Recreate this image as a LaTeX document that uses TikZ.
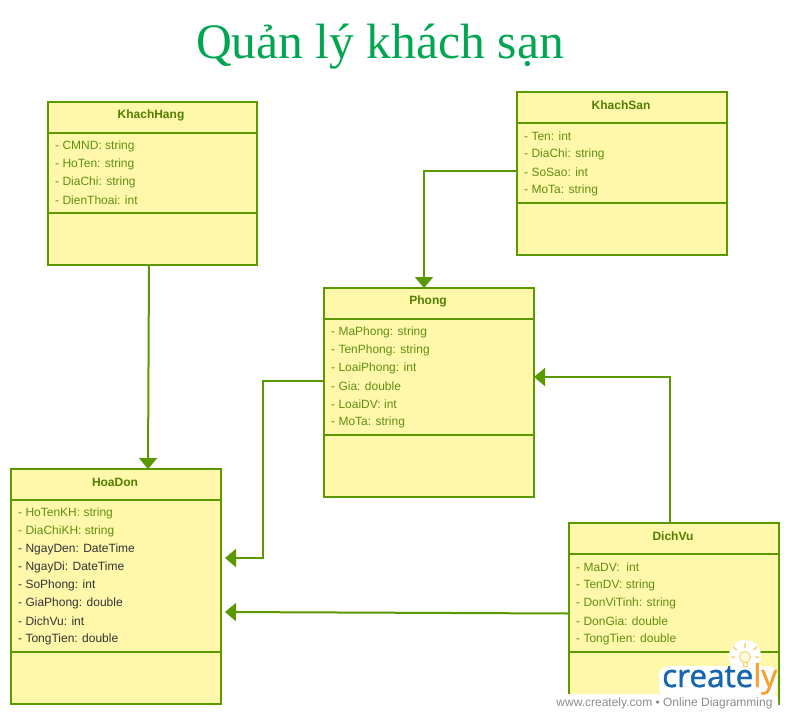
\documentclass[tikz,border=0pt]{standalone}
\usepackage{fontspec}
\setmainfont{Liberation Sans}
\newfontfamily\titlefont{Liberation Serif}
\newfontfamily\logofont[FakeBold=1.2]{Open Sans}
\usetikzlibrary{arrows.meta}
\definecolor{lineg}{HTML}{5A9A00}
\definecolor{fillg}{HTML}{FFF8AB}
\definecolor{textg}{HTML}{5F8F12}
\definecolor{headg}{HTML}{4F7F00}
\definecolor{darkt}{HTML}{333333}
\definecolor{titleg}{HTML}{00A651}
\definecolor{logob}{HTML}{1565B0}
\definecolor{logoo}{HTML}{F5A030}
\definecolor{rayc}{HTML}{F8D478}
\tikzset{
  x=1pt,y=-1pt,
  classbox/.style={draw=lineg,fill=fillg,line width=2pt,anchor=north west,inner sep=0pt,outer sep=0pt,minimum width=#1},
  classbox/.default=210pt,
  sepline/.style={draw=lineg,line width=2pt},
  headtext/.style={font=\fontsize{12}{14}\selectfont\bfseries,text=headg,anchor=center,inner sep=0pt},
  attr/.style={font=\fontsize{12}{14}\selectfont,text=textg,anchor=west,inner sep=0pt},
  attrd/.style={attr,text=darkt},
  conn/.style={draw=lineg,line width=2pt},
  arr/.style={conn,-{Triangle[length=11pt,width=18pt]}},
}
\begin{document}
\begin{tikzpicture}
\useasboundingbox (0,0) rectangle (788,716);
\fill[white] (0,0) rectangle (788,716);
\node[font=\titlefont\fontsize{49.6}{54}\selectfont,text=titleg,inner sep=0pt] (title) at (380,47) {Quản lý khách sạn};

% KhachHang
\node[classbox=209pt,minimum height=163pt] (kh) at (48,102) {};
\draw[sepline] (kh.west |- 0,133) -- (kh.east |- 0,133) (kh.west |- 0,213) -- (kh.east |- 0,213);
\node[headtext] (khT) at (151,115.5) {KhachHang};
\node[attr] (kh1) at (55,146) {- CMND: string};
\node[attr] (kh2) at (55,164) {- HoTen: string};
\node[attr] (kh3) at (55,182) {- DiaChi: string};
\node[attr] (kh4) at (55,200) {- DienThoai: int};

% KhachSan
\node[classbox,minimum height=163pt] (ks) at (517,92) {};
\draw[sepline] (ks.west |- 0,123) -- (ks.east |- 0,123) (ks.west |- 0,203) -- (ks.east |- 0,203);
\node[headtext] (ksT) at (621,105.5) {KhachSan};
\node[attr] (ks1) at (524,136) {- Ten: int};
\node[attr] (ks2) at (524,154) {- DiaChi: string};
\node[attr] (ks3) at (524,172) {- SoSao: int};
\node[attr] (ks4) at (524,190) {- MoTa: string};

% Phong
\node[classbox,minimum height=209pt] (ph) at (324,288) {};
\draw[sepline] (ph.west |- 0,319) -- (ph.east |- 0,319) (ph.west |- 0,435) -- (ph.east |- 0,435);
\node[headtext] (phT) at (428,301.5) {Phong};
\node[attr] (ph1) at (331,332) {- MaPhong: string};
\node[attr] (ph2) at (331,350) {- TenPhong: string};
\node[attr] (ph3) at (331,368) {- LoaiPhong: int};
\node[attr] (ph4) at (331,386) {- Gia: double};
\node[attr] (ph5) at (331,404) {- LoaiDV: int};
\node[attr] (ph6) at (331,422) {- MoTa: string};

% HoaDon
\node[classbox,minimum height=235pt] (hd) at (11,469) {};
\draw[sepline] (hd.west |- 0,500) -- (hd.east |- 0,500) (hd.west |- 0,652) -- (hd.east |- 0,652);
\node[headtext] (hdT) at (115,482.5) {HoaDon};
\node[attr] (hd1) at (18,513) {- HoTenKH: string};
\node[attr] (hd2) at (18,531) {- DiaChiKH: string};
\node[attrd] (hd3) at (18,549) {- NgayDen: DateTime};
\node[attrd] (hd4) at (18,567) {- NgayDi: DateTime};
\node[attrd] (hd5) at (18,585) {- SoPhong: int};
\node[attrd] (hd6) at (18,603) {- GiaPhong: double};
\node[attrd] (hd7) at (18,621) {- DichVu: int};
\node[attrd] (hd8) at (18,639) {- TongTien: double};

% DichVu
\node[classbox,minimum height=181pt] (dv) at (569,523) {};
\draw[sepline] (dv.west |- 0,554) -- (dv.east |- 0,554) (dv.west |- 0,652) -- (dv.east |- 0,652);
\node[headtext] (dvT) at (673,536.5) {DichVu};
\node[attr] (dv1) at (576,567) {- MaDV:\ \ int};
\node[attr] (dv2) at (576,585) {- TenDV: string};
\node[attr] (dv3) at (576,603) {- DonViTinh: string};
\node[attr] (dv4) at (576,621) {- DonGia: double};
\node[attr] (dv5) at (576,639) {- TongTien: double};

% connectors
\coordinate (hdIn1) at ([xshift=4pt]hd.east |- 0,558);
\coordinate (hdIn2) at ([xshift=4pt]hd.east |- 0,612);
\draw[arr] ([xshift=-3.5pt]kh.south) -- (hd.north -| 148,0);
\draw[arr] (ks.west |- 0,171) -- (424,171) -- (ph.north -| 424,0);
\draw[arr] (ph.west |- 0,381) -- (263,381) -- (263,558) -- (hdIn1);
\draw[arr] (dv.west |- 0,613.5) -- (hdIn2);
\draw[arr] (dv.north -| 670,0) -- (670,377) -- (ph.east |- 0,377);

% watermark
\fill[white,rounded corners=6pt] (555,694) rectangle (778,713);
\fill[white,rounded corners=9pt] (659,666) rectangle (777,697);
\fill[white] (745,656) circle (16);
\node[font=\logofont\fontsize{31.5}{36}\selectfont,inner sep=0pt,anchor=base west] (logo) at (662,687) {\textcolor{logob}{create}\textcolor{logoo}{ly}};
\node[font=\fontsize{12}{14}\selectfont,text=black!45,inner sep=0pt] (www) at (664.5,703) {www.creately.com \textbullet{} Online Diagramming};
\draw[rayc,fill=yellow!12,line width=1pt] (745,657) circle (5.5);
\draw[rayc,fill=yellow!12,line width=1pt] (743,662) rectangle (747,666);
\draw[rayc,line width=1.5pt] (745,648)--(745,643) (737,650)--(733,647) (753,650)--(757,647) (735,657)--(731,657) (755,657)--(759,657);
\end{tikzpicture}
\end{document}
